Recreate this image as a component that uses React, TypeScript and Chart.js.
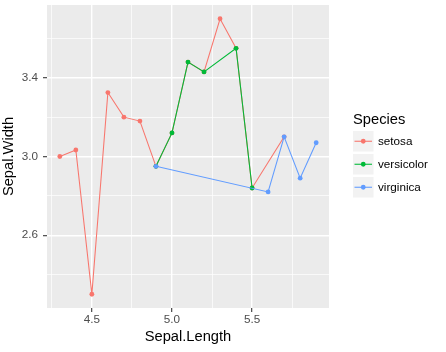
import React, { useEffect, useRef } from "react";
import { Chart, registerables } from "chart.js";

Chart.register(...registerables);

const setosaX = [4.3, 4.4, 4.5, 4.6, 4.7, 4.8, 4.9, 5.0, 5.1, 5.2, 5.3, 5.4, 5.5, 5.7];
const setosaY = [3.0, 3.033, 2.3, 3.325, 3.2, 3.18, 2.95, 3.12, 3.48, 3.43, 3.7, 3.55, 2.84, 3.1];
const versicolorX = [4.9, 5.0, 5.1, 5.2, 5.4, 5.5];
const versicolorY = [2.95, 3.12, 3.48, 3.43, 3.55, 2.84];
const virginicaX = [4.9, 5.6, 5.7, 5.8, 5.9];
const virginicaY = [2.95, 2.82, 3.1, 2.89, 3.07];

const xTicks = [4.25, 4.5, 4.75, 5.0, 5.25, 5.5, 5.75];
const xMajor = [4.5, 5.0, 5.5];
const yTicks = [2.4, 2.6, 2.8, 3.0, 3.2, 3.4, 3.6];
const yMajor = [2.6, 3.0, 3.4];

const speciesNames = ["setosa", "versicolor", "virginica"];
const speciesColors = ["#F8766D", "#00BA38", "#619CFF"];
const legendTitle = "Species";
const xTitle = "Sepal.Length";
const yTitle = "Sepal.Width";

const FONT = "'Liberation Sans', Arial, sans-serif";

const isMajor = (v: number, list: number[]) => list.some((m) => Math.abs(m - v) < 1e-6);

const toPoints = (xs: number[], ys: number[]) => xs.map((x, i) => ({ x, y: ys[i] }));

const zeroPad = (s: any) => {
  s.paddingTop = 0;
  s.paddingBottom = 0;
  s.paddingLeft = 0;
  s.paddingRight = 0;
};

const panelBg = {
  id: "panelBg",
  beforeDraw(chart: any) {
    const { ctx, chartArea } = chart;
    ctx.save();
    ctx.fillStyle = "#EBEBEB";
    ctx.fillRect(chartArea.left, chartArea.top, chartArea.right - chartArea.left, chartArea.bottom - chartArea.top);
    ctx.restore();
  },
};

const ggLegend = {
  id: "ggLegend",
  afterDraw(chart: any) {
    const { ctx } = chart;
    ctx.save();
    ctx.fillStyle = "#000000";
    ctx.font = `14.7px ${FONT}`;
    ctx.textBaseline = "middle";
    ctx.textAlign = "left";
    ctx.fillText(legendTitle, 353, 120);
    const keyX = 353;
    const keyW = 20.5;
    const keyH = 20.5;
    speciesNames.forEach((name, i) => {
      const top = 131 + i * 23;
      ctx.fillStyle = "#F2F2F2";
      ctx.fillRect(keyX, top, keyW, keyH);
      const cy = top + keyH / 2;
      ctx.strokeStyle = speciesColors[i];
      ctx.lineWidth = 1.07;
      ctx.beginPath();
      ctx.moveTo(keyX + 1.5, cy);
      ctx.lineTo(keyX + keyW - 1.5, cy);
      ctx.stroke();
      ctx.fillStyle = speciesColors[i];
      ctx.beginPath();
      ctx.arc(keyX + keyW / 2, cy, 2.4, 0, Math.PI * 2);
      ctx.fill();
      ctx.fillStyle = "#000000";
      ctx.font = `11.7px ${FONT}`;
      ctx.fillText(name, 378, cy + 1);
    });
    ctx.restore();
  },
};

export default function App() {
  const ref = useRef<HTMLCanvasElement | null>(null);

  useEffect(() => {
    if (!ref.current) return;
    const seriesX = [setosaX, versicolorX, virginicaX];
    const seriesY = [setosaY, versicolorY, virginicaY];
    const chart = new Chart(ref.current, {
      type: "line",
      data: {
        datasets: speciesNames.map((name, i) => ({
          label: name,
          data: toPoints(seriesX[i], seriesY[i]),
          borderColor: speciesColors[i],
          backgroundColor: speciesColors[i],
          borderWidth: 1.07,
          pointRadius: 2.4,
          pointBorderWidth: 0,
          pointBackgroundColor: speciesColors[i],
          pointHoverRadius: 2.4,
          tension: 0,
          fill: false,
          order: 3 - i,
        })),
      },
      options: {
        animation: false,
        responsive: false,
        events: [],
        layout: { autoPadding: false, padding: { top: 5, right: 117, left: 0, bottom: 0 } },
        plugins: {
          legend: { display: false },
          tooltip: { enabled: false },
          title: { display: false },
        },
        scales: {
          x: {
            type: "linear",
            min: 4.22,
            max: 5.98,
            afterBuildTicks: (s: any) => {
              s.ticks = xTicks.map((v) => ({ value: v }));
            },
            afterFit: (s: any) => {
              s.height = 44;
              zeroPad(s);
            },
            border: { display: false },
            grid: {
              color: "#FFFFFF",
              lineWidth: (c: any) => (isMajor(c.tick.value, xMajor) ? 1.4 : 0.7),
              drawTicks: true,
              tickLength: 4,
              tickWidth: 1.07,
              tickColor: (c: any) => (isMajor(c.tick.value, xMajor) ? "#333333" : "rgba(0,0,0,0)"),
            },
            ticks: {
              autoSkip: false,
              maxRotation: 0,
              padding: 1,
              color: "#4D4D4D",
              font: { family: FONT, size: 11.7 },
              callback: (v: any) => (isMajor(Number(v), xMajor) ? Number(v).toFixed(1) : ""),
            },
            title: {
              display: true,
              text: xTitle,
              color: "#000000",
              font: { family: FONT, size: 14.7 },
              padding: { top: 0, bottom: 6 },
            },
          },
          y: {
            type: "linear",
            min: 2.23,
            max: 3.77,
            afterBuildTicks: (s: any) => {
              s.ticks = yTicks.map((v) => ({ value: v }));
            },
            afterFit: (s: any) => {
              s.width = 47;
              zeroPad(s);
            },
            border: { display: false },
            grid: {
              color: "#FFFFFF",
              lineWidth: (c: any) => (isMajor(c.tick.value, yMajor) ? 1.4 : 0.7),
              drawTicks: true,
              tickLength: 4,
              tickWidth: 1.07,
              tickColor: (c: any) => (isMajor(c.tick.value, yMajor) ? "#333333" : "rgba(0,0,0,0)"),
            },
            ticks: {
              autoSkip: false,
              padding: 5,
              color: "#4D4D4D",
              font: { family: FONT, size: 11.7 },
              callback: (v: any) => (isMajor(Number(v), yMajor) ? Number(v).toFixed(1) : ""),
            },
            title: {
              display: true,
              text: yTitle,
              color: "#000000",
              font: { family: FONT, size: 14.7 },
              padding: { top: 0, bottom: 0 },
            },
          },
        },
      },
      plugins: [panelBg, ggLegend],
    });
    return () => chart.destroy();
  }, []);

  return (
    <div style={{ position: "fixed", left: 0, top: 0, width: 446, height: 352, background: "#FFFFFF" }}>
      <canvas ref={ref} width={446} height={352} style={{ display: "block", width: 446, height: 352 }} />
    </div>
  );
}
